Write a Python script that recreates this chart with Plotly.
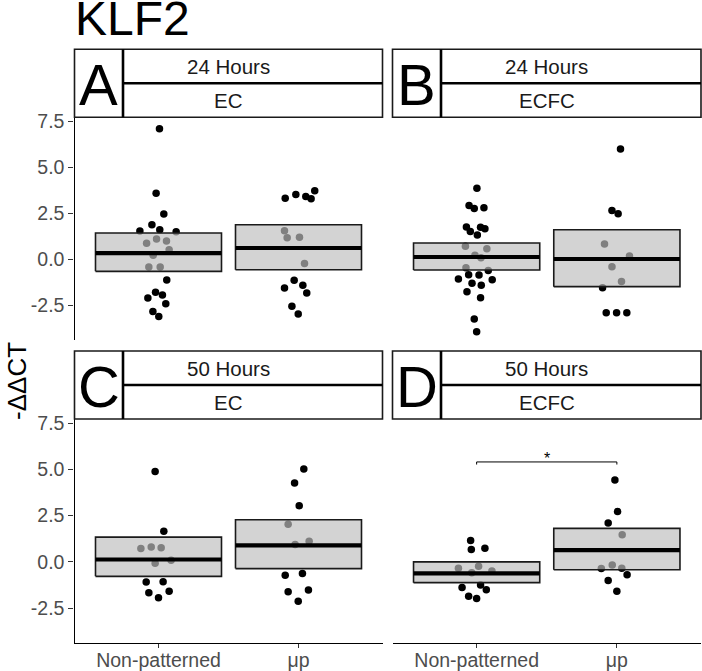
import plotly.graph_objects as go

# ---------------- data ----------------
cats = ["Non-patterned", "μp"]
panel_letters = ["A", "B", "C", "D"]
panel_hours = ["24 Hours", "24 Hours", "50 Hours", "50 Hours"]
panel_cells = ["EC", "ECFC", "EC", "ECFC"]
y_ticks = [-2.5, 0.0, 2.5, 5.0, 7.5]
y_ticklabels = ["-2.5", "0.0", "2.5", "5.0", "7.5"]

a_np = [7.10, 3.59, 2.46, 1.88, 1.61, 1.54, 1.50, 1.11, 1.00, 0.87, 0.53, 0.22, -0.42, -0.42, -1.12, -1.78, -1.94, -2.10, -2.41, -2.83, -3.10]
a_np_jit = [0.007, -0.017, 0.038, -0.047, 0.009, -0.133, 0.126, -0.014, 0.057, -0.085, 0.076, -0.038, -0.069, 0.012, 0.059, -0.021, 0.028, -0.076, 0.052, -0.040, 0.002]
a_up = [3.73, 3.53, 3.42, 3.32, 3.30, 1.56, 1.18, 1.20, -0.22, -1.14, -1.56, -1.41, -1.83, -2.54, -2.97]
a_up_jit = [0.116, -0.019, 0.052, -0.095, 0.090, -0.100, -0.081, 0.007, 0.043, -0.031, -0.100, 0.031, 0.059, -0.047, -0.002]

b_np = [3.86, 2.93, 2.77, 2.81, 1.76, 1.52, 1.74, 1.67, 1.32, 0.71, 0.58, 0.23, 0.09, -0.45, -0.61, -0.83, -0.85, -1.07, -1.10, -1.30, -1.41, -1.76, -2.08, -3.24, -3.93]
b_np_jit = [0.002, -0.054, -0.017, 0.052, -0.073, -0.045, 0.028, 0.059, 0.005, -0.080, 0.073, -0.012, 0.031, -0.076, 0.083, -0.057, 0.017, -0.130, 0.111, -0.033, 0.033, -0.069, 0.028, -0.017, 0.0]
b_up = [6.0, 2.65, 2.48, 0.83, 0.18, -0.40, -1.20, -1.54, -2.90, -2.90, -2.90]
b_up_jit = [0.026, -0.035, 0.009, -0.088, 0.090, -0.035, 0.033, -0.102, -0.076, -0.002, 0.071]

c_np = [4.89, 1.65, 0.72, 0.80, 0.76, 0.09, -0.07, -1.09, -1.07, -1.67, -1.59, -1.94]
c_np_jit = [-0.024, 0.038, -0.126, -0.052, 0.019, 0.090, -0.024, -0.088, 0.033, -0.069, 0.076, 0.0]
c_up = [5.02, 4.26, 3.04, 2.03, 0.94, 1.12, -0.72, -0.63, -1.61, -1.52, -2.12]
c_up_jit = [0.038, -0.028, 0.005, -0.074, -0.024, 0.076, -0.095, 0.028, -0.074, 0.071, -0.002]

d_np = [1.16, 0.67, 0.74, -0.34, -0.24, -0.58, -0.49, -1.25, -1.38, -1.50, -1.85, -1.97]
d_np_jit = [-0.043, -0.038, 0.059, -0.130, 0.014, -0.035, 0.109, 0.028, -0.104, 0.069, -0.057, 0.0]
d_up = [4.42, 2.72, 2.10, 1.47, -0.16, -0.34, -0.36, -0.69, -1.0, -1.58]
d_up_jit = [-0.014, 0.005, -0.062, 0.038, -0.033, 0.035, -0.111, 0.073, -0.062, 0.0]

# crossbar stats per panel: [Non-patterned, μp]
box_lo = [[-0.65, -0.56], [-0.58, -1.48], [-0.78, -0.36], [-1.12, -0.42]]
box_mid = [[0.34, 0.62], [0.13, 0.02], [0.13, 0.89], [-0.62, 0.64]]
box_hi = [[1.43, 1.88], [0.89, 1.61], [1.34, 2.28], [0.0, 1.81]]

# significance (panel D)
sig_y = 5.40
sig_tick = 5.26
sig_label = "*"

points = [
    [(a_np, a_np_jit), (a_up, a_up_jit)],
    [(b_np, b_np_jit), (b_up, b_up_jit)],
    [(c_np, c_np_jit), (c_up, c_up_jit)],
    [(d_np, d_np_jit), (d_up, d_up_jit)],
]

# ---------------- layout geometry (pixels) ----------------
W, H = 702, 671
FONT = "Liberation Sans, Arial, sans-serif"
px_x = lambda p: p / W
px_y = lambda p: 1 - p / H

cols = [(74.5, 382.5), (392.5, 701)]
rows = [(117.3, 340), (419, 643)]
strip_h = 68
letter_w = 48.5

fig = go.Figure()
layout_axes = {}
shapes = []
annotations = []

for i in range(4):
    r, c = divmod(i, 2)
    x0, x1 = cols[c]
    y0, y1 = rows[r]
    k = "" if i == 0 else str(i + 1)
    xa, ya = "x" + k, "y" + k
    left = c == 0
    bottom = r == 1

    layout_axes["xaxis" + k] = dict(
        domain=[px_x(x0), px_x(x1)], anchor=ya, range=[0.4, 2.6], automargin=False,
        tickvals=[1, 2], ticktext=cats, showticklabels=bottom,
        ticks="outside" if bottom else "", ticklen=4, tickwidth=1.2, tickcolor="#333333",
        ticklabelstandoff=-5,
        showline=bottom, linecolor="black", linewidth=1.3,
        showgrid=False, zeroline=False,
        tickfont=dict(family=FONT, size=19.5, color="#4d4d4d"),
    )
    layout_axes["yaxis" + k] = dict(
        domain=[px_y(y1), px_y(y0)], anchor=xa, range=[-4.38, 7.72], automargin=False,
        tickvals=y_ticks, ticktext=y_ticklabels, showticklabels=left,
        ticks="outside" if left else "", ticklen=5, tickwidth=1.2, tickcolor="#333333",
        showline=left, linecolor="black", linewidth=1.3,
        showgrid=False, zeroline=False,
        tickfont=dict(family=FONT, size=19.5, color="#4d4d4d"),
    )

    # points
    for j in range(2):
        vals, jit = points[i][j]
        fig.add_trace(go.Scatter(
            x=[j + 1 + d for d in jit], y=vals, mode="markers",
            marker=dict(color="black", size=7.5, line=dict(width=0)),
            xaxis=xa, yaxis=ya, showlegend=False, hoverinfo="skip"))

    # crossbars drawn over the points (semi-transparent fill)
    for j in range(2):
        cx = j + 1
        lo, mid, hi = box_lo[i][j], box_mid[i][j], box_hi[i][j]
        fig.add_trace(go.Scatter(
            x=[cx - 0.45, cx + 0.45, cx + 0.45, cx - 0.45, cx - 0.45],
            y=[lo, lo, hi, hi, lo], mode="lines", fill="toself",
            fillcolor="rgba(190,190,190,0.675)",
            line=dict(color="#1a1a1a", width=1.6),
            xaxis=xa, yaxis=ya, showlegend=False, hoverinfo="skip"))
        fig.add_trace(go.Scatter(
            x=[cx - 0.45, cx + 0.45], y=[mid, mid], mode="lines",
            line=dict(color="black", width=4.2),
            xaxis=xa, yaxis=ya, showlegend=False, hoverinfo="skip"))

    # strip boxes
    sy0 = y0 - strip_h
    mid_y = sy0 + strip_h / 2
    shapes.append(dict(type="rect", xref="paper", yref="paper",
                       x0=px_x(x0), x1=px_x(x1), y0=px_y(y0), y1=px_y(sy0),
                       line=dict(color="#1a1a1a", width=1.6), fillcolor="white", layer="above"))
    shapes.append(dict(type="line", xref="paper", yref="paper",
                       x0=px_x(x0 + letter_w), x1=px_x(x0 + letter_w), y0=px_y(y0), y1=px_y(sy0),
                       line=dict(color="black", width=2.6), layer="above"))
    shapes.append(dict(type="line", xref="paper", yref="paper",
                       x0=px_x(x0 + letter_w), x1=px_x(x1), y0=px_y(mid_y), y1=px_y(mid_y),
                       line=dict(color="black", width=2.6), layer="above"))
    annotations.append(dict(xref="paper", yref="paper", x=px_x(x0 + letter_w / 2), y=px_y(mid_y + 1),
                            text=panel_letters[i], showarrow=False, xanchor="center", yanchor="middle",
                            font=dict(family=FONT, size=58, color="black")))
    cxp = (x0 + x1) / 2
    annotations.append(dict(xref="paper", yref="paper", x=px_x(cxp), y=px_y(sy0 + strip_h / 4),
                            text=panel_hours[i], showarrow=False, xanchor="center", yanchor="middle",
                            font=dict(family=FONT, size=20.5, color="#1a1a1a")))
    annotations.append(dict(xref="paper", yref="paper", x=px_x(cxp), y=px_y(sy0 + 3 * strip_h / 4),
                            text=panel_cells[i], showarrow=False, xanchor="center", yanchor="middle",
                            font=dict(family=FONT, size=20.5, color="#1a1a1a")))

# significance bracket in panel D
fig.add_trace(go.Scatter(
    x=[1, 1, 2, 2], y=[sig_tick, sig_y, sig_y, sig_tick], mode="lines",
    line=dict(color="black", width=1), xaxis="x4", yaxis="y4",
    showlegend=False, hoverinfo="skip"))
annotations.append(dict(xref="x4", yref="y4", x=1.5, y=sig_y, text=sig_label, showarrow=False,
                        yanchor="bottom", yshift=-7, font=dict(family=FONT, size=16, color="black")))

# title and y-axis title
annotations.append(dict(xref="paper", yref="paper", x=px_x(73), y=px_y(18), text="KLF2",
                        showarrow=False, xanchor="left", yanchor="middle",
                        font=dict(family=FONT, size=48, color="black")))
annotations.append(dict(xref="paper", yref="paper", x=px_x(17), y=px_y(381), text="-ΔΔCT",
                        showarrow=False, textangle=-90, xanchor="center", yanchor="middle",
                        font=dict(family=FONT, size=26, color="black")))

fig.update_layout(
    width=W, height=H, margin=dict(l=0, r=0, t=0, b=0, autoexpand=False),
    paper_bgcolor="white", plot_bgcolor="white",
    shapes=shapes, annotations=annotations, showlegend=False,
    **layout_axes,
)

fig.write_html(
    "out.html",
    config={"displayModeBar": False},
    post_script="document.body.style.margin='0';document.body.style.padding='0';"
                "document.body.style.overflow='hidden';",
)
